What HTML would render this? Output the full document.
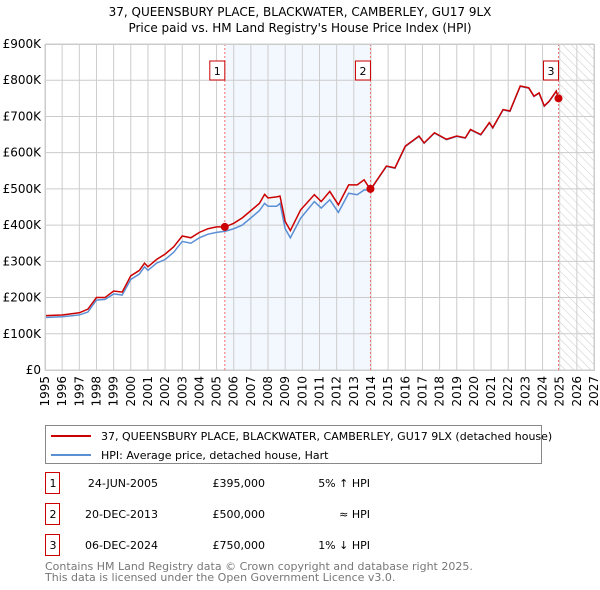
<!DOCTYPE html>
<html><head><meta charset="utf-8"><style>
body{margin:0;background:#fff;font-family:"DejaVu Sans","Liberation Sans",sans-serif;}
#wrap{position:relative;width:600px;height:590px;overflow:hidden}
</style></head><body>
<div id="wrap">
<svg id="chart" width="600" height="590" style="position:absolute;left:0;top:0;font-family:'DejaVu Sans','Liberation Sans',sans-serif">
<defs><pattern id="hatch" width="6" height="6" patternUnits="userSpaceOnUse" patternTransform="rotate(-45)"><line x1="0" y1="0" x2="0" y2="6" stroke="#ccc" stroke-width="1"/></pattern></defs>
<text x="300" y="16" text-anchor="middle" font-size="12">37, QUEENSBURY PLACE, BLACKWATER, CAMBERLEY, GU17 9LX</text>
<text x="300" y="32" text-anchor="middle" font-size="12">Price paid vs. HM Land Registry's House Price Index (HPI)</text>
<g id="plot"></g>
<g>
<rect x="45.5" y="425.5" width="496" height="38" fill="#fff" stroke="#888"/>
<line x1="51" y1="436" x2="91" y2="436" stroke="#cc0000" stroke-width="2"/>
<text x="101" y="440" font-size="11">37, QUEENSBURY PLACE, BLACKWATER, CAMBERLEY, GU17 9LX (detached house)</text>
<line x1="51" y1="455" x2="91" y2="455" stroke="#5b8fd4" stroke-width="2"/>
<text x="101" y="459" font-size="11">HPI: Average price, detached house, Hart</text>
</g>
<g id="table" font-size="11"></g>
<text x="45" y="570" font-size="11" fill="#777">Contains HM Land Registry data © Crown copyright and database right 2025.</text>
<text x="45" y="581" font-size="11" fill="#777">This data is licensed under the Open Government Licence v3.0.</text>
</svg>
</div>
<script>
const yTicks=[0,100,200,300,400,500,600,700,800,900];
const yTickLabels=["£0","£100K","£200K","£300K","£400K","£500K","£600K","£700K","£800K","£900K"];
const xYears=[1995,1996,1997,1998,1999,2000,2001,2002,2003,2004,2005,2006,2007,2008,2009,2010,2011,2012,2013,2014,2015,2016,2017,2018,2019,2020,2021,2022,2023,2024,2025,2026,2027];
const hpiDates=[1995,1996,1997,1997.5,1998,1998.5,1999,1999.5,2000,2000.5,2000.8,2001,2001.5,2002,2002.5,2003,2003.5,2004,2004.5,2005,2005.5,2006,2006.5,2007,2007.5,2007.8,2008,2008.5,2008.7,2009,2009.3,2009.9,2010.7,2011.1,2011.6,2012.1,2012.7,2013.2,2013.6,2013.97,2014.9,2015.4,2016.0,2016.8,2017.1,2017.7,2018.4,2019,2019.5,2019.8,2020.4,2020.9,2021.1,2021.7,2022.1,2022.7,2023.2,2023.5,2023.8,2024.1,2024.4,2024.8,2024.93];
const hpiValues=[145,147,152,160,193,195,210,207,250,265,285,275,295,305,325,355,350,365,375,380,383,390,400,420,440,460,452,452,460,390,365,419,465,447,470,435,488,484,497,497,562,557,617,645,626,654,636,645,640,663,649,682,668,718,714,783,778,755,764,728,742,769,750];
const priceValues=[150,152,158,168,200,200,218,215,260,275,295,285,305,320,340,370,365,380,390,395,395,405,420,440,460,485,475,478,480,410,385,442,484,465,493,456,511,511,525,498,563,558,618,646,627,655,637,646,641,664,650,683,669,719,715,784,779,756,765,729,743,770,750];
const saleDates=[2005.48,2013.97,2024.93];
const saleValues=[395,500,750];
const saleLabels=["1","2","3"];
const saleDateText=["24-JUN-2005","20-DEC-2013","06-DEC-2024"];
const salePriceText=["£395,000","£500,000","£750,000"];
const saleHpiText=["5% ↑ HPI","≈ HPI","1% ↓ HPI"];

const L=45,R=594,T=44,B=370;
const xS=y=>L+(y-1995)/(2027-1995)*(R-L);
const yS=v=>B-v/900*(B-T);
const NS="http://www.w3.org/2000/svg";
const plot=document.getElementById('plot');
function mk(tag,attrs,parent){const e=document.createElementNS(NS,tag);for(const k in attrs)e.setAttribute(k,attrs[k]);(parent||plot).appendChild(e);return e;}
// shaded span and hatch
const sh=mk('rect',{x:xS(saleDates[0]),y:T,width:xS(saleDates[1])-xS(saleDates[0]),height:B-T,fill:'#eef3fd',opacity:0.7});


const ht=mk('rect',{x:xS(2025),y:T,width:R-xS(2025),height:B-T,fill:'url(#hatch)'});


yTicks.forEach((v,i)=>{
 const g=mk('line',{x1:L,x2:R,y1:yS(v),y2:yS(v),stroke:'#ccc'});
 
 
 const t=mk('text',{x:L-4,y:yS(v)+4,'text-anchor':'end','font-size':12});
 
 
 t.textContent=yTickLabels[i];
});
xYears.forEach(y=>{
 const g=mk('line',{x1:xS(y),x2:xS(y),y1:T,y2:B,stroke:'#ccc'});
 
 
 const t=mk('text',{x:0,y:0,'text-anchor':'end','font-size':12,transform:`translate(${xS(y)+4},${B+6}) rotate(-90)`});
 
 
 t.textContent=y;
});
const ptsH=hpiDates.map((d,i)=>xS(d)+','+yS(hpiValues[i])).join(' ');
const ptsP=hpiDates.map((d,i)=>xS(d)+','+yS(priceValues[i])).join(' ');
const lh=mk('polyline',{points:ptsH,fill:'none',stroke:'#5b8fd4','stroke-width':1.5});


const lp=mk('polyline',{points:ptsP,fill:'none',stroke:'#cc0000','stroke-width':1.5});


saleDates.forEach((d,i)=>{
 const vl=mk('line',{x1:xS(d),x2:xS(d),y1:T,y2:B,stroke:'#f07070','stroke-dasharray':'2,2'});
 
 
 const c=mk('circle',{cx:xS(d),cy:yS(saleValues[i]),r:4,fill:'#cc0000'});
 
 
 const b=mk('rect',{x:xS(d)-8-7,y:61,width:15,height:19,fill:'#fff',stroke:'#cc0000'});
 
 
 const t=mk('text',{x:xS(d)-7.5,y:75,'text-anchor':'middle','font-size':11});
 
 
 t.textContent=saleLabels[i];
});
mk('rect',{x:L+.5,y:T+.5,width:R-L,height:B-T,fill:'none',stroke:'#ccc'});
const tb=document.getElementById('table');
saleDates.forEach((d,i)=>{
 const cy=483+i*31;
 const b=mk('rect',{x:45.5,y:cy-10.5,width:14,height:21,fill:'#fff',stroke:'#cc0000'},tb);
 
 
 const cells=[[53,'middle',saleLabels[i]],[158,'end',saleDateText[i]],[265,'end',salePriceText[i]],[370,'end',saleHpiText[i]]];
 cells.forEach(c=>{
  const t=mk('text',{x:c[0],y:cy+4,'text-anchor':c[1]},tb);
  
  
  t.textContent=c[2];
 });
});
</script>
</body></html>
